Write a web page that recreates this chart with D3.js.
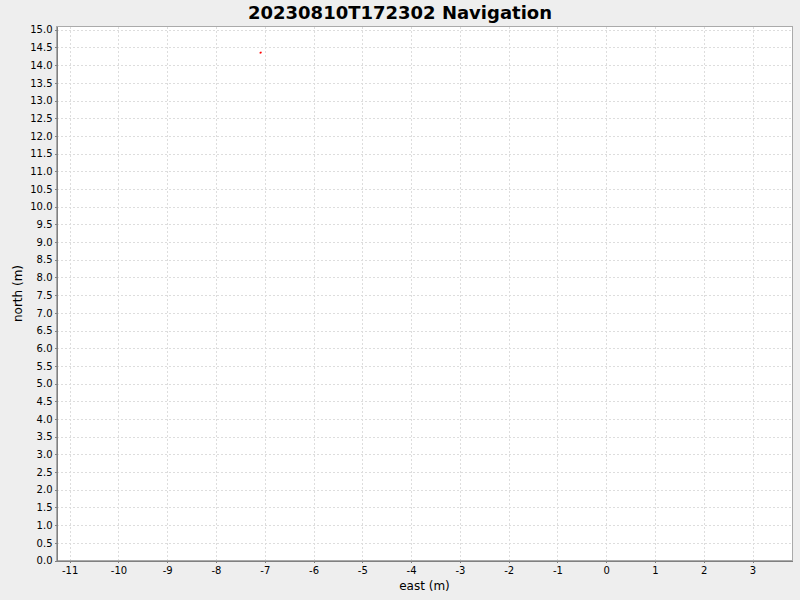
<!DOCTYPE html>
<html>
<head>
<meta charset="utf-8">
<script src="https://cdn.jsdelivr.net/npm/d3@7"></script>
<style>
  body { margin: 0; background: #eeeeee; }
  svg { display: block; font-family: "DejaVu Sans", sans-serif; }
</style>
</head>
<body>
<script>
/********************************************************/
// data (a tiny cluster of fixes)
const titleText = "20230810T172302 Navigation";
const eastValues = [-7.09, -7.08];
const northValues = [14.35, 14.36];
const xTicks = [-11, -10, -9, -8, -7, -6, -5, -4, -3, -2, -1, 0, 1, 2, 3];
const yTicks = d3.range(0, 31).map((i) => i * 0.5);

/********************************************************/
const svgWidth = 800;
const svgHeight = 600;

const plot = { left: 56.5, right: 792.5, top: 26.5, bottom: 560.5 };

const svg = d3
  .select("body")
  .append("svg")
  .attr("width", svgWidth)
  .attr("height", svgHeight);

svg.append("rect")
  .attr("width", svgWidth)
  .attr("height", svgHeight)
  .attr("fill", "#eeeeee");

/************** scales ************/
const xScale = d3.scaleLinear()
  .domain([-11.27, 3.82])
  .range([plot.left, plot.right]);

const yScale = d3.scaleLinear()
  .domain([0, 15.093])
  .range([plot.bottom, plot.top]);

/************** plot background + grid ************/
svg.append("rect")
  .attr("x", plot.left)
  .attr("y", plot.top)
  .attr("width", plot.right - plot.left)
  .attr("height", plot.bottom - plot.top)
  .attr("fill", "#ffffff");

const grid = svg.append("g")
  .attr("stroke", "#dddddd")
  .attr("stroke-width", 1)
  .attr("stroke-dasharray", "2,2")
  .attr("shape-rendering", "crispEdges");

grid.selectAll(".vgrid")
  .data(xTicks)
  .enter()
  .append("line")
  .attr("x1", (d) => Math.round(xScale(d)) + 0.5)
  .attr("x2", (d) => Math.round(xScale(d)) + 0.5)
  .attr("y1", plot.top)
  .attr("y2", plot.bottom);

grid.selectAll(".hgrid")
  .data(yTicks)
  .enter()
  .append("line")
  .attr("y1", (d) => Math.round(yScale(d)) + 0.5)
  .attr("y2", (d) => Math.round(yScale(d)) + 0.5)
  .attr("x1", plot.left)
  .attr("x2", plot.right);

// plot outline (top/right lighter)
svg.append("rect")
  .attr("x", plot.left)
  .attr("y", plot.top)
  .attr("width", plot.right - plot.left)
  .attr("height", plot.bottom - plot.top)
  .attr("fill", "none")
  .attr("stroke", "#aaaaaa")
  .attr("shape-rendering", "crispEdges");

/************** axes ************/
// plain hyphen for negatives, like the reference
const bottomAxis = d3.axisBottom(xScale)
  .tickValues(xTicks)
  .tickSize(2)
  .tickSizeOuter(0)
  .tickPadding(4)
  .tickFormat((d) => String(d));

const leftAxis = d3.axisLeft(yScale)
  .tickValues(yTicks)
  .tickSize(2)
  .tickSizeOuter(0)
  .tickPadding(2)
  .tickFormat((d) => d.toFixed(1));

const xAxisG = svg.append("g")
  .attr("transform", `translate(0, ${plot.bottom})`)
  .call(bottomAxis);

const yAxisG = svg.append("g")
  .attr("transform", `translate(${plot.left}, 0)`)
  .call(leftAxis);

[xAxisG, yAxisG].forEach((g) => {
  g.attr("font-family", "DejaVu Sans, sans-serif")
    .attr("font-size", "10px");
  g.select(".domain").attr("stroke", "#808080").attr("shape-rendering", "crispEdges");
  g.selectAll(".tick line").attr("stroke", "#808080").attr("shape-rendering", "crispEdges");
  g.selectAll(".tick text").attr("fill", "#000000");
});

/************** points ************/
const points = eastValues.map((e, i) => ({ east: e, north: northValues[i] }));

svg.append("g")
  .selectAll("rect")
  .data(points)
  .enter()
  .append("rect")
  .attr("x", (d) => xScale(d.east) - 0.75)
  .attr("y", (d) => yScale(d.north) - 0.75)
  .attr("width", 1.5)
  .attr("height", 1.5)
  .attr("fill", "#ff0000");

/************** labels ************/
svg.append("text")
  .text(titleText)
  .attr("x", 400)
  .attr("y", 19)
  .attr("text-anchor", "middle")
  .attr("font-size", "18px")
  .attr("font-weight", "bold")
  .attr("fill", "#000000");

svg.append("text")
  .text("east (m)")
  .attr("x", (plot.left + plot.right) / 2)
  .attr("y", 590)
  .attr("text-anchor", "middle")
  .attr("font-size", "12px")
  .attr("fill", "#000000");

svg.append("text")
  .text("north (m)")
  .attr("transform", `translate(22, ${(plot.top + plot.bottom) / 2}) rotate(-90)`)
  .attr("text-anchor", "middle")
  .attr("font-size", "12px")
  .attr("fill", "#000000");
</script>
</body>
</html>
